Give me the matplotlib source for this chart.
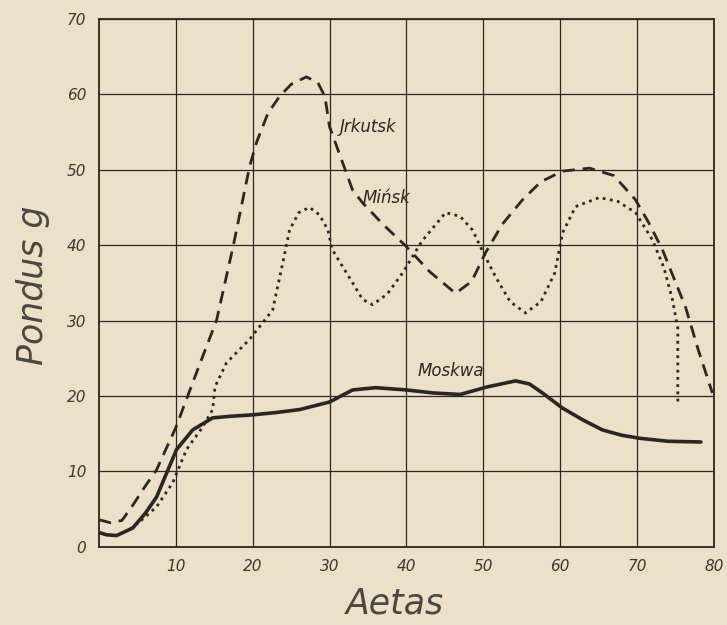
import matplotlib
matplotlib.use("Agg")
import matplotlib.pyplot as plt

# ---- data ----
irk_x = [0, 1.5, 3, 4.4, 6, 7.5, 10, 13, 15.3, 17.5, 19.6, 20.5, 22, 23.5, 25, 27, 28.5,
         29.4, 30, 31.5, 33, 34.3, 37, 40, 43, 46.4, 48.5, 50.3, 52.5, 55.1, 57.5, 60.3,
         63.8, 67, 69.8, 71.5, 73.3, 76.3, 78, 79.8]
irk_y = [3.6, 3.2, 3.5, 5.5, 8, 10.2, 15.8, 23.9, 30, 40, 50.4, 53.6, 57.5, 59.7, 61.3,
         62.3, 61.5, 59.7, 55.7, 51.5, 47.3, 45.6, 42.7, 39.8, 36.5, 33.6, 35.2, 39, 42.8,
         46, 48.4, 49.8, 50.2, 49.2, 46, 43, 39.4, 31.8, 26, 20.4]

min_x = [4, 5.5, 7.5, 9.6, 11.4, 13.5, 14.8, 15.1, 16.6, 19.6, 22.6, 24, 24.8, 26, 27.4,
         28.7, 29.8, 30.3, 31.5, 33, 34.3, 35.6, 37.5, 39.5, 42, 45.1, 47, 48.6, 50, 51.6,
         53.5, 55.5, 57.5, 59.3, 60.3, 62, 65.1, 67.5, 69.8, 72, 73.5, 74.6, 75.3, 75.3]
min_y = [2.3, 3.5, 5.3, 8.5, 12.9, 15.9, 18.2, 21.2, 24.4, 27.5, 31.4, 38, 42, 44.3, 45,
         44, 42, 39.5, 37.5, 35, 32.8, 32.1, 33.5, 36.3, 40.5, 44.3, 43.8, 42, 39, 35.8,
         32.5, 31, 32.5, 36.3, 41.6, 45.1, 46.3, 45.8, 44.3, 40.7, 37, 32.8, 29, 19]

mos_x = [0, 1, 2.3, 4.4, 6, 7.5, 10.1, 12.2, 14.8, 17, 20, 23, 26.1, 30, 33, 36, 40, 43.5,
         47, 50.5, 54.2, 56, 57.7, 60.3, 63, 65.5, 68, 70.3, 74, 78.3]
mos_y = [1.9, 1.6, 1.5, 2.5, 4.4, 6.6, 12.9, 15.5, 17.1, 17.3, 17.5, 17.8, 18.2, 19.2,
         20.8, 21.1, 20.8, 20.4, 20.2, 21.2, 22, 21.6, 20.4, 18.4, 16.8, 15.5, 14.8, 14.4,
         14.0, 13.9]

x_ticks = [10, 20, 30, 40, 50, 60, 70, 80]
y_ticks = [0, 10, 20, 30, 40, 50, 60, 70]
labels = ["Jrkutsk", "Mińsk", "Moskwa"]

bg = "#ece0c8"
ink = "#2a2623"

fig = plt.figure(figsize=(7.27, 6.25), dpi=100, facecolor=bg)
ax = fig.add_axes([0.136, 0.125, 0.846, 0.845], facecolor=bg)

ax.plot(irk_x, irk_y, color=ink, lw=2.0, dashes=(4.5, 2.8))
ax.plot(min_x, min_y, color=ink, lw=2.0, dashes=(1.0, 1.6))
ax.plot(mos_x, mos_y, color=ink, lw=2.6, solid_capstyle="round")

ax.text(31.3, 55.6, labels[0], fontsize=12, style="italic", color=ink, va="center")
ax.text(34.3, 46.2, labels[1], fontsize=12, style="italic", color=ink, va="center")
ax.text(41.4, 23.3, labels[2], fontsize=12, style="italic", color=ink, va="center")

ax.set_xlim(0, 80)
ax.set_ylim(0, 70)
ax.set_xticks(x_ticks)
ax.set_yticks(y_ticks)
ax.set_xticklabels([str(v) for v in x_ticks], fontsize=11, style="italic", color="#3a3632")
ax.set_yticklabels([str(v) for v in y_ticks], fontsize=11, style="italic", color="#3a3632")
ax.tick_params(length=0, pad=9)
ax.grid(True, color=ink, lw=0.9)
for s in ax.spines.values():
    s.set_color(ink)
    s.set_linewidth(1.3)

fig.text(0.045, 0.544, "Pondus g", rotation=90, fontsize=25, style="italic",
         color="#4a4642", ha="center", va="center", fontweight="light")
fig.text(0.543, 0.035, "Aetas", fontsize=25, style="italic", color="#4a4642",
         ha="center", va="center", fontweight="light")

fig.savefig("out.png", dpi=100, facecolor=bg)
